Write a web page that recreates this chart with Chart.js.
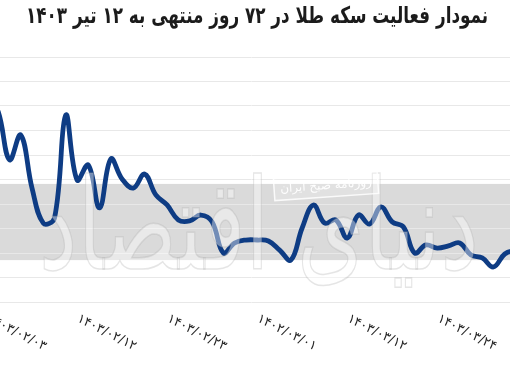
<!DOCTYPE html>
<html>
<head>
<meta charset="utf-8">
<script src="https://cdn.jsdelivr.net/npm/chart.js@4"></script>
<style>
  html, body { margin: 0; padding: 0; width: 510px; height: 365px; overflow: hidden; background: #fff; }
  #wrap { position: absolute; left: -13px; top: 0; width: 529px; height: 365px; }
  #title { position: absolute; right: 22px; top: 2px; z-index: 2; direction: rtl; white-space: nowrap;
           font: bold 23px "DejaVu Sans", sans-serif; color: #1b1b1b; transform-origin: right top; }
</style>
</head>
<body>
<div id="wrap"><canvas id="myChart" width="529" height="365"></canvas></div>
<div id="title">نمودار فعالیت سکه طلا در ۷۲ روز منتهی به ۱۲ تیر ۱۴۰۳</div>
<script>
// روزها (فقط برچسب هر ۸ روز نمایش داده می‌شود)
const days = [
  '۱۴۰۳/۰۲/۰۳', '', '', '', '', '', '', '',
  '۱۴۰۳/۰۲/۱۲', '', '', '', '', '', '', '',
  '۱۴۰۳/۰۲/۲۳', '', '', '', '', '', '', '',
  '۱۴۰۲/۰۳/۰۱', '', '', '', '', '', '', '',
  '۱۴۰۳/۰۳/۱۲', '', '', '', '', '', '', '',
  '۱۴۰۳/۰۳/۲۴', '', '', '', '', '', '', ''
];

// شاخص فعالیت (مقیاس نسبی، از روی تصویر)
const activity = [
  85.0, 77.6, 58.0, 68.2, 46.5, 32.2, 34.3, 76.3,
  49.8, 55.9, 38.4, 58.4, 50.2, 46.5, 52.2, 43.7,
  39.6, 33.5, 33.1, 35.5, 32.7, 20.0, 24.1, 25.3,
  25.3, 24.9, 21.2, 17.1, 30.2, 39.6, 32.2, 33.5,
  26.1, 35.5, 31.8, 38.8, 32.7, 30.6, 20.0, 23.3,
  22.0, 22.9, 24.1, 19.2, 18.0, 14.3, 19.6, 21.2
];

const yMin = 0;
const yMax = 100;
const yStep = 10;

// عنوان را به پهنای تصویر اصلی می‌رسانیم
const title = document.getElementById('title');
title.style.transform = 'scaleX(' + (462 / title.offsetWidth) + ')';

// نوار خاکستری پس‌زمینه (واترمارک)
const bandPlugin = {
  id: 'band',
  beforeDraw(chart) {
    const { ctx, scales } = chart;
    const top = scales.y.getPixelForValue(48.2);
    const bottom = scales.y.getPixelForValue(17.1);
    ctx.save();
    ctx.fillStyle = '#dadada';
    ctx.fillRect(0, top, chart.width, bottom - top);
    ctx.restore();
  }
};

const watermarkPlugin = {
  id: 'watermark',
  afterDatasetsDraw(chart) {
    const { ctx } = chart;
    ctx.save();
    // دنیای اقتصاد
    ctx.translate(272, 236);
    ctx.font = '120px "DejaVu Sans"';
    ctx.textAlign = 'center';
    ctx.textBaseline = 'middle';
    ctx.direction = 'rtl';
    const w = ctx.measureText('دنیای اقتصاد').width;
    ctx.scale(440 / w, 1.05);
    ctx.fillStyle = 'rgba(255,255,255,0.42)';
    ctx.fillText('دنیای اقتصاد', 0, 0);
    ctx.lineWidth = 1.5;
    ctx.strokeStyle = 'rgba(170,170,170,0.3)';
    ctx.strokeText('دنیای اقتصاد', 0, 0);
    ctx.restore();

    // روزنامه صبح ایران
    ctx.save();
    ctx.translate(339, 186);
    ctx.rotate(-4 * Math.PI / 180);
    ctx.fillStyle = 'rgba(255,255,255,0.2)';
    ctx.fillRect(-52, -11, 104, 22);
    ctx.strokeStyle = 'rgba(255,255,255,0.85)';
    ctx.lineWidth = 1.5;
    ctx.strokeRect(-52, -11, 104, 22);
    ctx.fillStyle = 'rgba(255,255,255,0.95)';
    ctx.font = '12px "DejaVu Sans"';
    ctx.textAlign = 'center';
    ctx.textBaseline = 'middle';
    ctx.direction = 'rtl';
    ctx.fillText('روزنامه صبح ایران', 0, 0);
    ctx.restore();
  }
};

// برچسب‌های مورب محور افقی
const dateLabels = {
  id: 'dateLabels',
  afterDraw(chart) {
    const { ctx, scales } = chart;
    ctx.save();
    ctx.fillStyle = '#262626';
    ctx.font = '13px "DejaVu Sans"';
    ctx.textAlign = 'left';
    ctx.textBaseline = 'middle';
    days.forEach((d, i) => {
      if (!d) return;
      const x = scales.x.getPixelForValue(i);
      ctx.save();
      ctx.translate(x + 1, 318);
      ctx.rotate(27 * Math.PI / 180);
      ctx.fillText(d, 0, 0);
      ctx.restore();
    });
    ctx.restore();
  }
};

const ctx = document.getElementById('myChart');

new Chart(ctx, {
  type: 'line',
  data: {
    labels: days,
    datasets: [{
      label: 'فعالیت سکه طلا',
      data: activity,
      borderColor: '#0e3c84',
      borderWidth: 4.8,
      pointRadius: 0,
      tension: 0.4,
      fill: false
    }]
  },
  options: {
    responsive: false,
    animation: false,
    layout: { padding: { top: 57, bottom: 63, left: 0, right: 0 } },
    plugins: {
      legend: { display: false },
      tooltip: { enabled: false }
    },
    scales: {
      x: { display: false },
      y: {
        min: yMin,
        max: yMax,
        ticks: { display: false, stepSize: yStep },
        grid: { color: '#e8e8e8', lineWidth: 1, drawTicks: false },
        border: { display: false }
      }
    }
  },
  plugins: [bandPlugin, watermarkPlugin, dateLabels]
});
</script>
</body>
</html>
